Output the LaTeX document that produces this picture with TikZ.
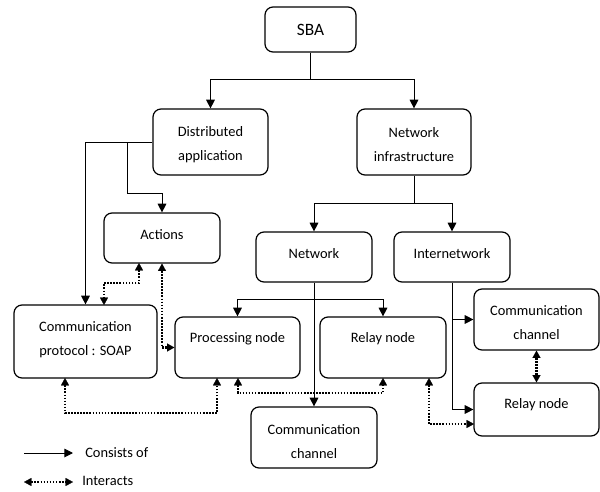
\documentclass[tikz,border=0pt]{standalone}
\usepackage{fontspec}
\setmainfont{Carlito}
\usetikzlibrary{arrows.meta,fit}
\begin{document}
\begin{tikzpicture}[x=0.75pt,y=-0.75pt,
  box/.style={draw,rounded corners=6pt,line width=0.9pt,inner sep=0pt},
  txt/.style={font=\fontsize{10.8}{18}\selectfont,align=center,inner sep=0pt},
  arr/.style={line width=0.75pt,-{Triangle[length=6.5pt,width=6.5pt]}},
  inter/.style={line width=1.6pt,dash pattern=on 1.2pt off 1.1pt,
     {Triangle[length=5.5pt,width=6pt,line width=0.1pt]}-{Triangle[length=5.5pt,width=6pt,line width=0.1pt]}}]
\useasboundingbox (0,0) rectangle (600,492);
% boxes
\node[box,fit={(265,7)(356,52)}] (sba) {};
\node[font=\fontsize{13}{15}\selectfont,inner sep=0pt] (sbat) at (310.5,30) {SBA};
\node[box,fit={(153,109)(268,175)}] (da) {};
\node[txt] (dat) at (210.5,145) {Distributed\\application};
\node[box,fit={(357,109)(471,175)}] (ni) {};
\node[txt] (nit) at (414,145) {Network\\infrastructure};
\node[box,fit={(104,213)(220,263)}] (act) {};
\node[txt] (actt) at (162,235) {Actions};
\node[box,fit={(256,232)(372,282)}] (net) {};
\node[txt] (nett) at (314,254) {Network};
\node[box,fit={(394,232)(510,282)}] (inw) {};
\node[txt] (inwt) at (452,254) {Internetwork};
\node[box,fit={(14,305)(157,378)}] (cp) {};
\node[txt] (cpt) at (85.5,340) {Communication\\protocol : SOAP};
\node[box,fit={(175,317)(300,378)}] (pn) {};
\node[txt] (pnt) at (237.5,339) {Processing node};
\node[box,fit={(320,317)(446,378)}] (rn) {};
\node[txt] (rnt) at (383,339) {Relay node};
\node[box,fit={(251,407)(377,468)}] (cc) {};
\node[txt] (cct) at (314,442) {Communication\\channel};
\node[box,fit={(474,289)(599,350)}] (cr) {};
\node[txt] (crt) at (536.5,323) {Communication\\channel};
\node[box,fit={(474,383)(599,436)}] (rr) {};
\node[txt] (rrt) at (536.5,405) {Relay node};
% junctions
\coordinate (j1) at (310.5,80);
\coordinate (j2) at (414,203);
\coordinate (b1) at (127,142);
\coordinate (b2) at (127,193);
\coordinate (j3) at (314,299);
% consists-of connectors
\draw[line width=0.75pt] (sba.south) -- (j1);
\draw[arr] (j1) -| (da.north);
\draw[arr] (j1) -| (ni.north);
\draw[line width=0.75pt] (ni.south) -- (j2);
\draw[arr] (j2) -| (net.north);
\draw[arr] (j2) -| (inw.north);
\draw[arr] (da.west) -| (cp.north);
\draw[arr] (b1) -- (b2) -| (act.north);
\draw[arr] (net.south) -- (cc.north);
\draw[arr] (j3) -| (pn.north);
\draw[arr] (j3) -| (rn.north);
\draw[arr] (inw.south) |- (rr.west);
\draw[arr] (inw.south |- cr.west) -- (cr.west);
% interacts connectors
\coordinate (d1a) at (139,263);
\coordinate (d1b) at (104,305);
\draw[inter] (d1a) -- (139,283) -| (d1b);
\draw[inter] (act.south) |- (pn.west);
\coordinate (d3a) at (65,378);
\coordinate (d3b) at (217,378);
\draw[inter] (d3a) -- (65,413) -| (d3b);
\coordinate (d4a) at (238,378);
\coordinate (d4b) at (383,378);
\draw[inter] (d4a) -- (238,393) -| (d4b);
\coordinate (d5a) at (429,378);
\coordinate (d5b) at (474,424);
\draw[inter] (d5a) |- (d5b);
\draw[inter] (cr.south) -- (rr.north);
% legend
\coordinate (l1a) at (24,453);
\coordinate (l1b) at (73,453);
\draw[arr] (l1a) -- (l1b);
\node[txt,anchor=west] (l1t) at (85,453) {Consists of};
\coordinate (l2a) at (24,482);
\coordinate (l2b) at (73,482);
\draw[inter,line width=1.2pt] (l2a) -- (l2b);
\node[txt,anchor=west] (l2t) at (82,481) {Interacts};
\end{tikzpicture}
\end{document}
